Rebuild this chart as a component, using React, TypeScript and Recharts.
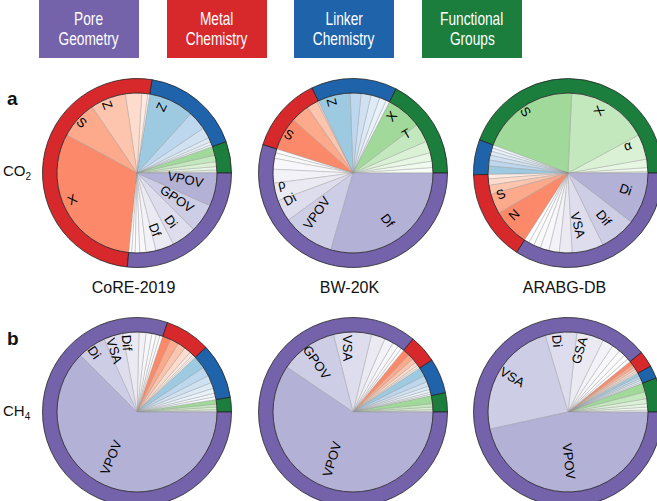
import { Cell, Pie, PieChart } from "recharts";

// values are % of total importance, listed in drawing order (counter-clockwise from 3 o'clock),
// smallest first inside every group; tags name the largest slices (largest first)
const coreCo2Fg = [0.2, 0.4, 0.7, 1.0, 1.3, 1.8];
const coreCo2Linker = [0.4, 0.6, 0.9, 2.2, 3.8, 9.2];
const coreCo2Metal = [0.4, 1.2, 3.3, 7.2, 7.6, 31.3];
const coreCo2Pore = [0.6, 0.7, 0.9, 1.3, 2.0, 3.7, 5.0, 5.8, 6.7];

const bwCo2Fg = [1.1, 1.3, 1.7, 2.4, 3.8, 7.2];
const bwCo2Linker = [0.7, 1.4, 1.8, 2.0, 2.2, 6.6];
const bwCo2Metal = [0.3, 2.2, 3.8, 6.7];
const bwCo2Pore = [0.8, 1.1, 2.2, 2.8, 3.6, 4.4, 10.5, 29.5];

const arabgCo2Fg = [0.3, 0.8, 1.7, 5.1, 16.4, 20.1];
const arabgCo2Linker = [0.6, 0.7, 0.8, 1.0, 1.2, 1.7];
const arabgCo2Metal = [0.9, 1.3, 1.8, 4.1, 7.5];
const arabgCo2Pore = [1.0, 1.1, 1.4, 1.8, 2.1, 2.6, 6.4, 7.3, 10.5];

const coreCh4Fg = [0.2, 0.3, 0.5, 0.6, 0.9];
const coreCh4Linker = [0.6, 0.7, 1.0, 1.2, 1.5, 1.9, 2.6];
const coreCh4Metal = [0.3, 0.4, 0.7, 1.4, 1.6, 1.7, 1.7];
const coreCh4Pore = [0.6, 0.7, 0.9, 1.2, 1.4, 3.3, 3.9, 5.7, 62.5];

const bwCh4Fg = [0.2, 0.3, 0.5, 0.7, 1.6];
const bwCh4Linker = [0.3, 0.4, 0.6, 0.7, 0.9, 1.3, 1.8];
const bwCh4Metal = [0.3, 0.4, 0.7, 0.9, 1.1, 1.4];
const bwCh4Pore = [0.6, 0.8, 1.2, 1.8, 2.8, 7.7, 11.6, 59.6];

const arabgCh4Fg = [0.4, 0.6, 0.7, 1.0, 1.4, 1.8];
const arabgCh4Linker = [0.3, 0.4, 0.4, 0.5, 0.6];
const arabgCh4Metal = [0.2, 0.3, 0.4, 0.5, 0.6, 0.8];
const arabgCh4Pore = [0.7, 1.0, 1.3, 1.7, 2.2, 5.5, 6.4, 23.9, 46.7];

const coreCo2Tags = { fg: [], linker: ["Z"], metal: ["X", "S", "Z"], pore: ["VPOV", "GPOV", "Di", "Df"] };
const bwCo2Tags = { fg: ["X", "T"], linker: ["Z"], metal: ["S"], pore: ["Df", "VPOV", "Di", "ρ"] };
const arabgCo2Tags = { fg: ["S", "X", "α"], linker: [], metal: ["N", "S"], pore: ["Di", "Dif", "VSA"] };
const coreCh4Tags = { fg: [], linker: [], metal: [], pore: ["VPOV", "Di", "VSA", "Dif"] };
const bwCh4Tags = { fg: [], linker: [], metal: [], pore: ["VPOV", "GPOV", "VSA"] };
const arabgCh4Tags = { fg: [], linker: [], metal: [], pore: ["VPOV", "VSA", "Di", "GSA"] };

const datasets = ["CoRE-2019", "BW-20K", "ARABG-DB"];
const groupNames = [
  ["Pore", "Geometry"],
  ["Metal", "Chemistry"],
  ["Linker", "Chemistry"],
  ["Functional", "Groups"],
];

type GroupKey = "fg" | "linker" | "metal" | "pore";
const ORDER: GroupKey[] = ["fg", "linker", "metal", "pore"];

const RING: Record<GroupKey, string> = {
  pore: "#7462ab",
  metal: "#d7282b",
  linker: "#1f63aa",
  fg: "#1b7e3d",
};

// darkest first
const SHADES: Record<GroupKey, string[]> = {
  metal: ["#fc8a6a", "#fca98c", "#fdc5ae", "#fedccd", "#feeae1", "#fff2ec", "#fff7f4"],
  linker: ["#9ecae1", "#bdd7ee", "#d0e2f2", "#deebf7", "#e9f2fa", "#f1f7fc", "#f7fbff"],
  fg: ["#a1d99b", "#c4e8bd", "#dbf1d5", "#e8f6e4", "#f1faee", "#f7fcf5", "#fafdf9"],
  pore: ["#b3b1d6", "#cecde6", "#dedded", "#ebeaf3", "#f3f2f8", "#f8f7fb", "#fafafc", "#fcfcfd", "#fefeff"],
};

const FONT = '"Liberation Sans", Arial, Helvetica, sans-serif';
const R_IN = 80;
const R_OUT = 94.5;
const C = 100;

type Slice = { value: number; color: string; tag: string };

function build(values: Record<GroupKey, number[]>, tags: Record<GroupKey, string[]>) {
  const slices: Slice[] = [];
  const ring: { value: number; color: string }[] = [];
  ORDER.forEach((g) => {
    const vals = values[g];
    const n = vals.length;
    vals.forEach((v, i) => {
      const rank = n - 1 - i;
      const pal = SHADES[g];
      slices.push({ value: v, color: pal[Math.min(rank, pal.length - 1)], tag: tags[g][rank] ?? "" });
    });
    ring.push({ value: vals.reduce((a, b) => a + b, 0), color: RING[g] });
  });
  return { slices, ring };
}

function tagWidth(t: string) {
  let w = 0;
  for (const ch of t) {
    if (ch === "i") w += 2.9;
    else if (ch === "f") w += 3.6;
    else if (/[A-Z]/.test(ch)) w += 8.7;
    else w += 7.2;
  }
  return w;
}

function Donut({
  x,
  y,
  values,
  tags,
}: {
  x: number;
  y: number;
  values: Record<GroupKey, number[]>;
  tags: Record<GroupKey, string[]>;
}) {
  const { slices, ring } = build(values, tags);

  const renderTag = (props: any) => {
    const s = slices[props.index];
    if (!s || !s.tag) return null;
    const mid = props.midAngle as number;
    const r = 72 - tagWidth(s.tag) / 2;
    const rad = (mid * Math.PI) / 180;
    const tx = C + r * Math.cos(rad);
    const ty = C - r * Math.sin(rad);
    const rot = mid > 90 && mid < 270 ? mid - 180 : mid;
    return (
      <text
        x={tx}
        y={ty}
        transform={`rotate(${-rot} ${tx} ${ty})`}
        textAnchor="middle"
        dominantBaseline="central"
        fontSize={13}
        fontFamily={FONT}
        fill="#000"
      >
        {s.tag}
      </text>
    );
  };

  return (
    <div style={{ position: "absolute", left: x - C, top: y - C }}>
      <PieChart width={2 * C} height={2 * C}>
        <Pie
          data={slices}
          dataKey="value"
          cx={C}
          cy={C}
          innerRadius={0}
          outerRadius={R_IN}
          startAngle={0}
          endAngle={360}
          stroke="#8f8f8f"
          strokeWidth={0.35}
          label={renderTag}
          labelLine={false}
          isAnimationActive={false}
        >
          {slices.map((s, i) => (
            <Cell key={i} fill={s.color} />
          ))}
        </Pie>
        <Pie
          data={ring}
          dataKey="value"
          cx={C}
          cy={C}
          innerRadius={R_IN}
          outerRadius={R_OUT}
          startAngle={0}
          endAngle={360}
          stroke="#262626"
          strokeWidth={0.8}
          isAnimationActive={false}
        >
          {ring.map((s, i) => (
            <Cell key={i} fill={s.color} />
          ))}
        </Pie>
      </PieChart>
    </div>
  );
}

const legendX = [39, 167, 294, 422];
const legendColors = [RING.pore, RING.metal, RING.linker, RING.fg];
const colX = [131.5, 347.5, 562.5];

export default function App() {
  return (
    <div
      style={{
        position: "absolute",
        left: 0,
        top: 0,
        width: 657,
        height: 501,
        overflow: "hidden",
        background: "#fff",
        fontFamily: FONT,
        color: "#111",
      }}
    >
      {groupNames.map((lines, i) => (
        <div
          key={i}
          style={{
            position: "absolute",
            left: legendX[i],
            top: 0,
            width: 100,
            height: 58,
            background: legendColors[i],
            color: "#fff",
            display: "flex",
            flexDirection: "column",
            alignItems: "center",
            justifyContent: "center",
            fontSize: 18.5,
            lineHeight: "20px",
          }}
        >
          {lines.map((l) => (
            <span key={l} style={{ display: "inline-block", transform: "scaleX(0.74)", whiteSpace: "nowrap" }}>
              {l}
            </span>
          ))}
        </div>
      ))}

      <div style={{ position: "absolute", left: 7, top: 88, fontSize: 19, fontWeight: "bold" }}>a</div>
      <div style={{ position: "absolute", left: 7, top: 328, fontSize: 19, fontWeight: "bold" }}>b</div>
      <div style={{ position: "absolute", left: 3, top: 162, fontSize: 15 }}>
        CO<span style={{ fontSize: 10, position: "relative", top: 4 }}>2</span>
      </div>
      <div style={{ position: "absolute", left: 3, top: 402, fontSize: 15 }}>
        CH<span style={{ fontSize: 10, position: "relative", top: 4 }}>4</span>
      </div>

      <Donut x={colX[0]} y={167.5} values={{ fg: coreCo2Fg, linker: coreCo2Linker, metal: coreCo2Metal, pore: coreCo2Pore }} tags={coreCo2Tags} />
      <Donut x={colX[1]} y={167.5} values={{ fg: bwCo2Fg, linker: bwCo2Linker, metal: bwCo2Metal, pore: bwCo2Pore }} tags={bwCo2Tags} />
      <Donut x={colX[2]} y={167.5} values={{ fg: arabgCo2Fg, linker: arabgCo2Linker, metal: arabgCo2Metal, pore: arabgCo2Pore }} tags={arabgCo2Tags} />
      <Donut x={colX[0]} y={406.5} values={{ fg: coreCh4Fg, linker: coreCh4Linker, metal: coreCh4Metal, pore: coreCh4Pore }} tags={coreCh4Tags} />
      <Donut x={colX[1]} y={406.5} values={{ fg: bwCh4Fg, linker: bwCh4Linker, metal: bwCh4Metal, pore: bwCh4Pore }} tags={bwCh4Tags} />
      <Donut x={colX[2]} y={406.5} values={{ fg: arabgCh4Fg, linker: arabgCh4Linker, metal: arabgCh4Metal, pore: arabgCh4Pore }} tags={arabgCh4Tags} />

      {datasets.map((d, i) => (
        <div
          key={d}
          style={{
            position: "absolute",
            left: colX[i] + 2 - 70,
            top: 279,
            width: 140,
            textAlign: "center",
            fontSize: 16,
            lineHeight: "18px",
          }}
        >
          {d}
        </div>
      ))}
    </div>
  );
}
